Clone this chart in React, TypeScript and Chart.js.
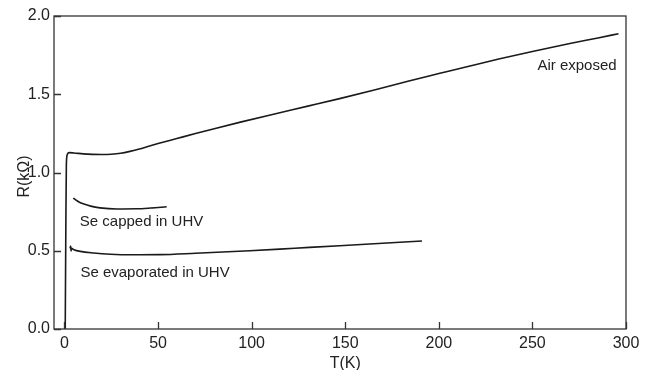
import React, { useEffect, useRef } from "react";
import { Chart, registerables } from "chart.js";

Chart.register(...registerables);

// Air exposed sample
const AIR_T = [0.4, 0.7, 1.0, 1.5, 2.5, 5, 10, 15, 20, 25, 30, 35, 40, 45, 50, 60, 70, 80, 94, 110, 130, 147, 165, 184, 200, 215, 232, 250, 270, 285, 296];
const AIR_R = [0.0, 0.6, 1.05, 1.115, 1.127, 1.125, 1.119, 1.116, 1.115, 1.117, 1.123, 1.135, 1.15, 1.168, 1.185, 1.217, 1.249, 1.28, 1.322, 1.368, 1.424, 1.472, 1.526, 1.585, 1.632, 1.676, 1.725, 1.773, 1.824, 1.86, 1.887];

// Se capped in UHV
const CAP_T = [4.7, 6, 8, 10, 14, 19, 28, 38.6, 46, 54.6];
const CAP_R = [0.837, 0.825, 0.81, 0.8, 0.785, 0.774, 0.767, 0.768, 0.773, 0.781];

// Se evaporated in UHV
const EVA_T = [3.0, 3.3, 3.5, 3.8, 5, 8.5, 15.6, 24.6, 35, 51, 70, 99, 123, 147, 170, 191];
const EVA_R = [0.515, 0.53, 0.498, 0.515, 0.507, 0.496, 0.486, 0.478, 0.474, 0.475, 0.484, 0.5, 0.516, 0.532, 0.548, 0.562];

const X_TICKS = [0, 50, 100, 150, 200, 250, 300];
const Y_TICKS = [0, 0.5, 1.0, 1.5, 2.0];

const LABEL_TEXTS = ["Air exposed", "Se capped in UHV", "Se evaporated in UHV"];
const LABEL_T = [295, 8.2, 8.5];
const LABEL_R = [1.657, 0.66, 0.332];
const LABEL_ALIGN: CanvasTextAlign[] = ["right", "left", "left"];

const X_TITLE = "T(K)";
const Y_TITLE = "R(kΩ)";

const FONT = "'Liberation Sans', Arial, Helvetica, sans-serif";
const INK = "#222";

const toPts = (xs: number[], ys: number[]) => xs.map((x, i) => ({ x, y: ys[i] }));

const framePlugin = {
  id: "frame",
  afterDraw(chart: any) {
    const { ctx, chartArea, scales } = chart;
    const { left, right, top, bottom } = chartArea;
    const xs = scales.x;
    const ys = scales.y;
    ctx.save();
    ctx.strokeStyle = "#333";
    ctx.lineWidth = 1.3;
    ctx.strokeRect(left, top, right - left, bottom - top);
    ctx.beginPath();
    X_TICKS.forEach((v) => {
      const px = Math.round(xs.getPixelForValue(v)) + 0.5;
      ctx.moveTo(px, bottom);
      ctx.lineTo(px, bottom - 7);
    });
    Y_TICKS.forEach((v) => {
      const py = Math.round(ys.getPixelForValue(v)) + 0.5;
      ctx.moveTo(left, py);
      ctx.lineTo(left + 7, py);
    });
    ctx.stroke();

    ctx.fillStyle = INK;
    ctx.font = `16px ${FONT}`;
    ctx.textAlign = "center";
    ctx.textBaseline = "alphabetic";
    ctx.fillText(X_TITLE, xs.getPixelForValue(150), 368);

    ctx.save();
    ctx.translate(29, (top + bottom) / 2 + 4);
    ctx.rotate(-Math.PI / 2);
    ctx.fillText(Y_TITLE, 0, 0);
    ctx.restore();

    ctx.font = `15px ${FONT}`;
    LABEL_TEXTS.forEach((t, i) => {
      ctx.textAlign = LABEL_ALIGN[i];
      ctx.fillText(t, xs.getPixelForValue(LABEL_T[i]), ys.getPixelForValue(LABEL_R[i]));
    });
    ctx.restore();
  },
};

export default function App() {
  const ref = useRef<HTMLCanvasElement | null>(null);
  useEffect(() => {
    if (!ref.current) return;
    const lineStyle = {
      borderColor: "#1a1a1a",
      borderWidth: 1.6,
      pointRadius: 0,
      fill: false,
      cubicInterpolationMode: "monotone" as const,
    };
    const chart = new Chart(ref.current, {
      type: "line",
      data: {
        datasets: [
          { label: "Air exposed", data: toPts(AIR_T, AIR_R), ...lineStyle },
          { label: "Se capped in UHV", data: toPts(CAP_T, CAP_R), ...lineStyle },
          { label: "Se evaporated in UHV", data: toPts(EVA_T, EVA_R), ...lineStyle },
        ],
      },
      options: {
        animation: false,
        responsive: false,
        layout: { padding: { left: 0, right: 31, top: 16, bottom: 0 } },
        plugins: { legend: { display: false }, tooltip: { enabled: false } },
        scales: {
          x: {
            type: "linear",
            min: -5.6,
            max: 300,
            afterBuildTicks: (s: any) => {
              s.ticks = X_TICKS.map((v) => ({ value: v }));
            },
            afterFit: (s: any) => {
              s.height = 41;
            },
            grid: { display: false, drawTicks: false },
            border: { display: false },
            ticks: {
              padding: 5,
              color: INK,
              font: { family: FONT, size: 16 },
              maxRotation: 0,
              autoSkip: false,
            },
          },
          y: {
            type: "linear",
            min: 0,
            max: 2,
            afterBuildTicks: (s: any) => {
              s.ticks = Y_TICKS.map((v) => ({ value: v }));
            },
            afterFit: (s: any) => {
              s.width = 54;
            },
            grid: { display: false, drawTicks: false },
            border: { display: false },
            ticks: {
              padding: 4,
              color: INK,
              font: { family: FONT, size: 16 },
              callback: (v: any) => Number(v).toFixed(1),
              autoSkip: false,
            },
          },
        },
      },
      plugins: [framePlugin],
    });
    return () => chart.destroy();
  }, []);
  return (
    <div style={{ position: "absolute", left: 0, top: 0, width: 657, height: 370, background: "#fff" }}>
      <canvas ref={ref} width={657} height={370} style={{ width: 657, height: 370 }} />
    </div>
  );
}
